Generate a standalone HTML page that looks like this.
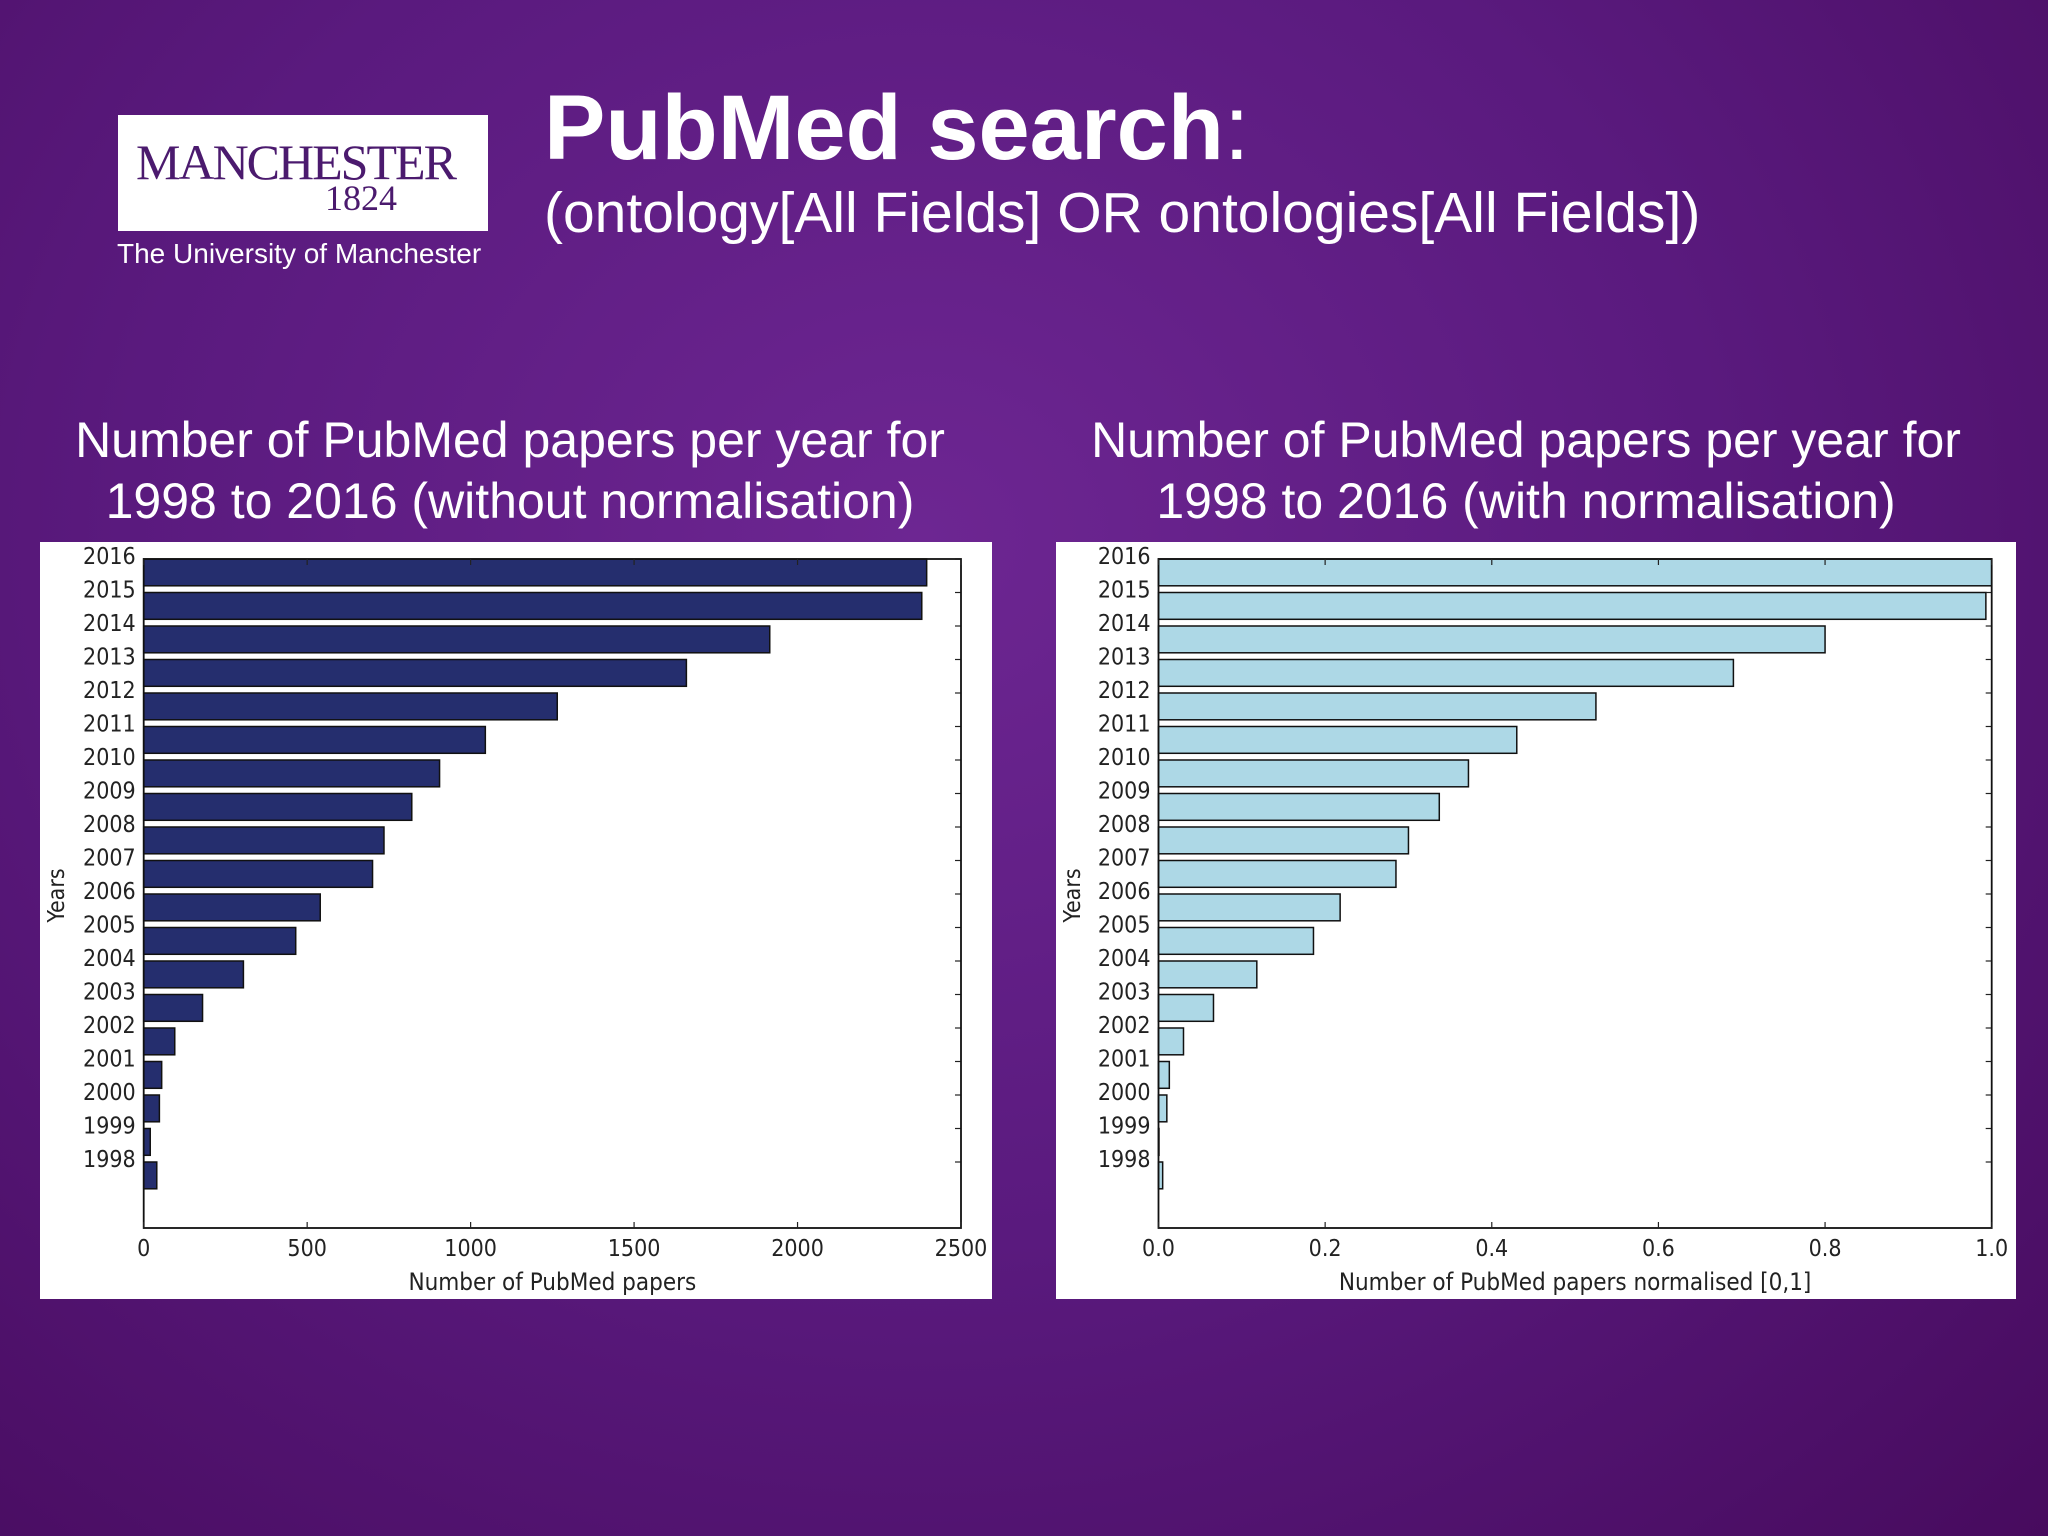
<!DOCTYPE html>
<html><head><meta charset="utf-8">
<style>
html,body{margin:0;padding:0;width:2048px;height:1536px;overflow:hidden}
body{background:radial-gradient(ellipse at 45% 35%,#6d2692 0%,#5a1a7e 50%,#470b5e 100%);font-family:"Liberation Sans",sans-serif;position:relative}
.t{position:absolute;color:#fff;white-space:nowrap}
</style></head><body>
<div style="position:absolute;left:118px;top:115px;width:370px;height:116px;background:#fff">
  <div style="position:absolute;left:18px;top:18px;font-family:'Liberation Serif',serif;font-size:50px;color:#4b1a6e;letter-spacing:-2px">MANCHESTER</div>
  <div style="position:absolute;left:207px;top:62px;font-family:'Liberation Serif',serif;font-size:36px;color:#4b1a6e">1824</div>
</div>
<div class="t" style="left:117px;top:238px;font-size:28px">The University of Manchester</div>
<div class="t" style="left:544px;top:76px;font-size:92px;font-weight:bold">PubMed search<span style="font-weight:normal">:</span></div>
<div class="t" style="left:544px;top:180px;font-size:57px">(ontology[All Fields] OR ontologies[All Fields])</div>
<div class="t" style="left:40px;width:940px;top:410px;font-size:50px;text-align:center;line-height:61px">Number of PubMed papers per year for<br>1998 to 2016 (without normalisation)</div>
<div class="t" style="left:1056px;width:940px;top:410px;font-size:50px;text-align:center;line-height:61px">Number of PubMed papers per year for<br>1998 to 2016 (with normalisation)</div>
<svg id="chartL" style="position:absolute;left:0;top:0" width="2048" height="1536"></svg>
<script>
const years=[2016,2015,2014,2013,2012,2011,2010,2009,2008,2007,2006,2005,2004,2003,2002,2001,2000,1999,1998];
const rawValues=[2395,2380,1915,1660,1265,1045,905,820,735,700,540,465,305,180,95,55,48,20,40];
const normValues=[1.0,0.993,0.8,0.69,0.525,0.43,0.372,0.337,0.3,0.285,0.218,0.186,0.118,0.066,0.03,0.013,0.01,0.0,0.005];
const rawTicks=[0,500,1000,1500,2000,2500];
const normTicks=["0.0","0.2","0.4","0.6","0.8","1.0"];
const svg=document.getElementById('chartL');
const NS='http://www.w3.org/2000/svg';
function mk(tag,attrs,parent){const e=document.createElementNS(NS,tag);for(const k in attrs)e.setAttribute(k,attrs[k]);(parent||svg).appendChild(e);return e;}
const FF='DejaVu Sans Condensed, DejaVu Sans, sans-serif';
function draw(cfg){
  const g=mk('g',{});
  
  
  const bg=mk('rect',{x:cfg.px,y:542,width:cfg.pw,height:757,fill:'#fff'},g);
  
  
  const x0=cfg.x0,x1=cfg.x1,top=559,step=33.5,bottom=1228;
  const xs=v=>x0+(v-cfg.min)/(cfg.max-cfg.min)*(x1-x0);
  const ys=i=>top+i*step;
  years.forEach((yr,i)=>{
    const r=mk('rect',{x:xs(0),y:ys(i),width:Math.max(xs(cfg.vals[i])-xs(0),0.5),height:step*0.8,fill:cfg.color,stroke:'#111','stroke-width':1.5},g);
    
    
    const t=mk('text',{x:x0-8,y:ys(i)+5,'text-anchor':'end','font-size':23,fill:'#222','font-family':FF},g);
    t.textContent=yr;
    
    
    mk('line',{x1:x1,x2:x1-6,y1:ys(i),y2:ys(i),stroke:'#222','stroke-width':1.2},g);
  });
  mk('rect',{x:x0,y:top,width:x1-x0,height:bottom-top,fill:'none',stroke:'#111','stroke-width':1.8},g);
  cfg.ticks.forEach(tk=>{
    const v=parseFloat(tk),x=xs(v);
    mk('line',{x1:x,x2:x,y1:bottom,y2:bottom-6,stroke:'#222','stroke-width':1.2},g);
    mk('line',{x1:x,x2:x,y1:top,y2:top+6,stroke:'#222','stroke-width':1.2},g);
    const t=mk('text',{x:x,y:bottom+28,'text-anchor':'middle','font-size':23,fill:'#222','font-family':FF},g);
    t.textContent=tk;
    
    
  });
  const xl=mk('text',{x:(x0+x1)/2,y:bottom+62,'text-anchor':'middle','font-size':24,fill:'#222','font-family':FF},g);
  xl.textContent=cfg.xlabel;
  
  
  const yl=mk('text',{x:0,y:0,transform:`translate(${cfg.px+24},${(top+bottom)/2+2}) rotate(-90)`,'text-anchor':'middle','font-size':23,fill:'#222','font-family':FF},g);
  yl.textContent='Years';
  
  
}
draw({name:'left-bar-chart',px:40,pw:952,x0:143.7,x1:961,min:0,max:2500,vals:rawValues,ticks:rawTicks.map(String),color:'#252e6e',xlabel:'Number of PubMed papers'});
draw({name:'right-bar-chart',px:1056,pw:960,x0:1158.5,x1:1991.7,min:0,max:1,vals:normValues,ticks:normTicks,color:'#add8e6',xlabel:'Number of PubMed papers normalised [0,1]'});
</script>
</body></html>
